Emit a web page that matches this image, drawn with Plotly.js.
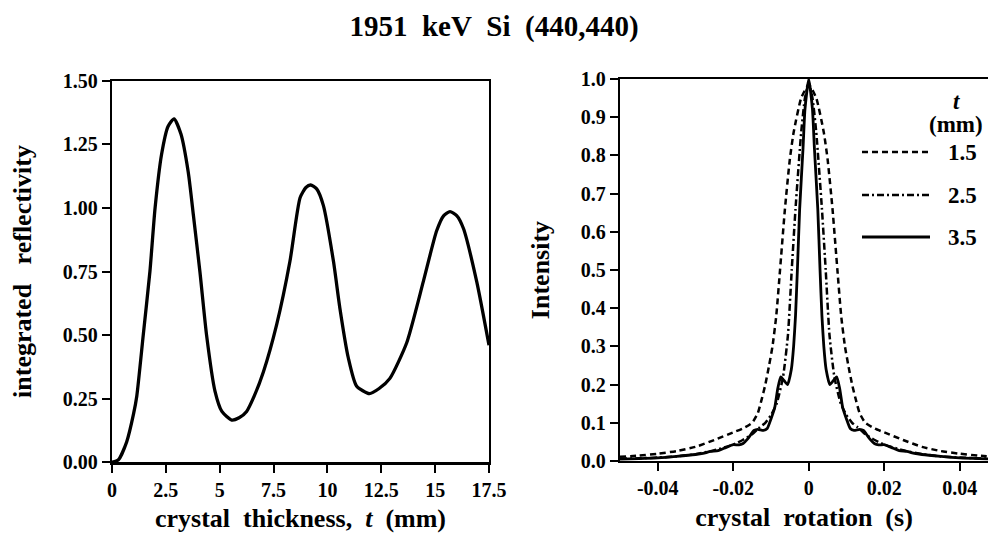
<!DOCTYPE html>
<html>
<head>
<meta charset="utf-8">
<script src="https://cdn.plot.ly/plotly-3.0.1.min.js"></script>
<style>html,body{margin:0;padding:0;background:#fff}#chart{width:988px;height:533px}</style>
</head>
<body>
<div id="chart"></div>
<script>
// Left panel: integrated reflectivity vs crystal thickness
var thickness = [0, 0.3, 0.68, 1.0, 1.15, 1.45, 1.76, 2.0, 2.3, 2.6, 2.88, 3.2, 3.54, 3.78, 4.08, 4.39, 4.78, 5.1, 5.56, 5.9, 6.25, 6.6, 7.03, 7.64, 8.26, 8.73, 9.0, 9.22, 9.5, 9.81, 10.28, 10.58, 10.97, 11.35, 11.95, 12.4, 12.9, 13.68, 14.45, 15.07, 15.4, 15.69, 16.0, 16.31, 16.93, 17.5];
var reflectivity = [0, 0.01, 0.08, 0.19, 0.26, 0.50, 0.75, 1.0, 1.21, 1.32, 1.35, 1.29, 1.14, 0.97, 0.75, 0.50, 0.28, 0.2, 0.166, 0.175, 0.20, 0.26, 0.356, 0.54, 0.79, 1.04, 1.08, 1.09, 1.075, 1.01, 0.79, 0.605, 0.41, 0.30, 0.27, 0.29, 0.33, 0.47, 0.71, 0.91, 0.97, 0.985, 0.97, 0.92, 0.71, 0.46];

// Right panel: rocking curves for t = 1.5, 2.5, 3.5 mm
var rot15 = [-0.05,-0.045,-0.04,-0.035,-0.03,-0.025,-0.02,-0.0175,-0.015,-0.0135,-0.0125,-0.0115,-0.0105,-0.0096,-0.0086,-0.0076,-0.0063,-0.005,-0.004,-0.002,0,0.002,0.004,0.005,0.0063,0.0076,0.0086,0.0096,0.0105,0.0115,0.0125,0.0135,0.015,0.0175,0.02,0.025,0.03,0.035,0.04,0.045,0.05];
var int15 = [0.011,0.014,0.019,0.026,0.037,0.055,0.075,0.085,0.1,0.125,0.16,0.2,0.25,0.3,0.38,0.5,0.66,0.79,0.86,0.95,0.985,0.95,0.86,0.79,0.66,0.5,0.38,0.3,0.25,0.2,0.16,0.125,0.1,0.085,0.075,0.055,0.037,0.026,0.019,0.014,0.011];

var rot25 = [-0.05,-0.045,-0.04,-0.035,-0.03,-0.025,-0.02,-0.0175,-0.015,-0.013,-0.0115,-0.01,-0.0085,-0.0068,-0.0055,-0.0045,-0.0035,-0.002,-0.001,0,0.001,0.002,0.0035,0.0045,0.0055,0.0068,0.0085,0.01,0.0115,0.013,0.015,0.0175,0.02,0.025,0.03,0.035,0.04,0.045,0.05];
var int25 = [0.006,0.007,0.009,0.012,0.018,0.028,0.043,0.055,0.07,0.088,0.1,0.12,0.15,0.22,0.33,0.5,0.66,0.86,0.95,0.99,0.95,0.86,0.66,0.5,0.33,0.22,0.15,0.12,0.1,0.088,0.07,0.055,0.043,0.028,0.018,0.012,0.009,0.007,0.006];

var rot35 = [-0.05,-0.045,-0.04,-0.035,-0.03,-0.028,-0.026,-0.024,-0.022,-0.02,-0.0185,-0.0175,-0.016,-0.0145,-0.0135,-0.012,-0.011,-0.01,-0.009,-0.0082,-0.0074,-0.0065,-0.0056,-0.0046,-0.004,-0.0035,-0.003,-0.0024,-0.0015,-0.001,0,0.001,0.0015,0.0024,0.003,0.0035,0.004,0.0046,0.0056,0.0065,0.0074,0.0082,0.009,0.01,0.011,0.012,0.0135,0.0145,0.016,0.0175,0.0185,0.02,0.022,0.024,0.026,0.028,0.03,0.035,0.04,0.045,0.05];
var int35 = [0.005,0.006,0.008,0.012,0.017,0.02,0.025,0.027,0.035,0.043,0.042,0.045,0.06,0.08,0.083,0.08,0.085,0.11,0.14,0.19,0.22,0.21,0.2,0.24,0.3,0.38,0.5,0.66,0.82,0.92,1.0,0.92,0.82,0.66,0.5,0.38,0.3,0.24,0.2,0.21,0.22,0.19,0.14,0.11,0.085,0.08,0.083,0.08,0.06,0.045,0.042,0.043,0.035,0.027,0.025,0.02,0.017,0.012,0.008,0.006,0.005];

var leftXTicks = [0, 2.5, 5, 7.5, 10, 12.5, 15, 17.5];
var leftXText = ["0", "2.5", "5", "7.5", "10", "12.5", "15", "17.5"];
var leftYTicks = [0, 0.25, 0.5, 0.75, 1.0, 1.25, 1.5];
var rightXTicks = [-0.04, -0.02, 0, 0.02, 0.04];
var rightXText = ["-0.04", "-0.02", "0", "0.02", "0.04"];
var rightYTicks = [0, 0.1, 0.2, 0.3, 0.4, 0.5, 0.6, 0.7, 0.8, 0.9, 1.0];
var legendNames = ["1.5", "2.5", "3.5"];

var FONT = "Liberation Serif, Times New Roman, serif";
var sp = "\u00a0";

var traces = [
  {x: thickness, y: reflectivity, xaxis: "x", yaxis: "y", mode: "lines",
   line: {color: "#000", width: 3.3, shape: "spline", smoothing: 0.6}, name: "reflectivity"},
  {x: rot15, y: int15, xaxis: "x2", yaxis: "y2", mode: "lines",
   line: {color: "#000", width: 2.5, dash: "6px,4px", shape: "spline", smoothing: 0.5}, name: legendNames[0]},
  {x: rot25, y: int25, xaxis: "x2", yaxis: "y2", mode: "lines",
   line: {color: "#000", width: 2.5, dash: "7px,3px,2px,3px", shape: "spline", smoothing: 0.5}, name: legendNames[1]},
  {x: rot35, y: int35, xaxis: "x2", yaxis: "y2", mode: "lines",
   line: {color: "#000", width: 2.8, shape: "spline", smoothing: 0.5}, name: legendNames[2]}
];

var axisCommon = {
  showgrid: false, zeroline: false, showline: true, linecolor: "#000", linewidth: 2.2,
  mirror: true, ticks: "outside", ticklen: 8, tickwidth: 2, tickcolor: "#000",
  tickfont: {family: FONT, size: 20, color: "#000", weight: "bold"},
  automargin: false, fixedrange: true
};

function ax(extra) { return Object.assign({}, axisCommon, extra); }

var legendLines = [
  {y: 152, dash: "6px,4px", w: 2.5},
  {y: 195, dash: "7px,3px,2px,3px", w: 2.5},
  {y: 237, dash: "solid", w: 2.8}
];

var legendFont = {family: FONT, size: 23, color: "#000", weight: "bold"};

var shapes = legendLines.map(function (l) {
  return {type: "line", xref: "paper", yref: "paper",
    x0: 862 / 988, x1: 930 / 988, y0: 1 - l.y / 533, y1: 1 - l.y / 533,
    line: {color: "#000", width: l.w, dash: l.dash}};
});

var annotations = legendLines.map(function (l, i) {
  return {xref: "paper", yref: "paper", x: 962 / 988, y: 1 - l.y / 533,
    xanchor: "center", yanchor: "middle", showarrow: false, text: legendNames[i],
    font: legendFont};
});
annotations.push({xref: "paper", yref: "paper", x: 956 / 988, y: 1 - 101 / 533,
  xanchor: "center", yanchor: "middle", showarrow: false, text: "<i>t</i>",
  font: legendFont});
annotations.push({xref: "paper", yref: "paper", x: 956 / 988, y: 1 - 125 / 533,
  xanchor: "center", yanchor: "middle", showarrow: false, text: "(mm)",
  font: legendFont});

var titleFont = {family: FONT, size: 26, color: "#000", weight: "bold"};

var layout = {
  width: 988, height: 533,
  margin: {l: 0, r: 0, t: 0, b: 0},
  paper_bgcolor: "#fff", plot_bgcolor: "#fff",
  showlegend: false,
  title: {text: "1951" + sp + sp + "keV" + sp + sp + "Si" + sp + sp + "(440,440)",
    font: {family: FONT, size: 29, color: "#000", weight: "bold"},
    x: 0.5, xanchor: "center", y: 1 - 26 / 533, yanchor: "middle", xref: "paper", yref: "paper"},
  xaxis: ax({domain: [112 / 988, 489 / 988], range: [0, 17.5], anchor: "y",
    tickvals: leftXTicks, ticktext: leftXText,
    title: {text: sp + sp + sp + "crystal" + sp + sp + "thickness," + sp + sp + "<i>t</i>" + sp + sp + "(mm)", font: titleFont, standoff: 10}}),
  yaxis: ax({domain: [1 - 462.3 / 533, 1 - 80.7 / 533], range: [0, 1.5], anchor: "x",
    tickvals: leftYTicks, tickformat: ".2f",
    title: {text: "integrated" + sp + sp + sp + "reflectivity", font: titleFont, standoff: 24}}),
  xaxis2: ax({domain: [620 / 988, 1], range: [-0.05, 0.0475], anchor: "y2",
    tickvals: rightXTicks, ticktext: rightXText,
    title: {text: sp + sp + "crystal" + sp + sp + "rotation" + sp + sp + "(s)", font: titleFont, standoff: 10}}),
  yaxis2: ax({domain: [1 - 461 / 533, 1 - 79 / 533], range: [0, 1.0], anchor: "x2",
    tickvals: rightYTicks, tickformat: ".1f",
    title: {text: "Intensity", font: titleFont, standoff: 24}}),
  shapes: shapes,
  annotations: annotations
};

Plotly.newPlot("chart", traces, layout, {displayModeBar: false, staticPlot: true});
</script>
</body>
</html>
